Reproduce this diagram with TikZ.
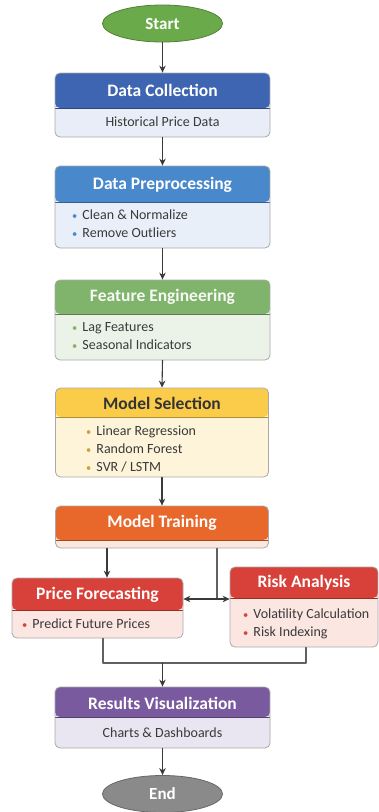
\documentclass[tikz,border=0pt]{standalone}
\usepackage{fontspec}
\setmainfont{Carlito}
\usepackage{xcolor}
\usetikzlibrary{
    arrows.meta,
    positioning,
    calc,
    shapes.geometric
}
\definecolor{ink}   {HTML}{3A3A3A}
\definecolor{rim}   {HTML}{A9A9A9}
\definecolor{go}    {HTML}{6BAA4B}
\definecolor{stop}  {HTML}{8A8A8A}
\definecolor{c1}{HTML}{3D65B1}
\definecolor{c1bg}{HTML}{E8EDF7}
\definecolor{c2}{HTML}{4A88CC}
\definecolor{c2bg}{HTML}{E9EFF9}
\definecolor{c3}{HTML}{80B36C}
\definecolor{c3bg}{HTML}{EBF3E8}
\definecolor{c4}{HTML}{FBCB4A}
\definecolor{c4bg}{HTML}{FEF4DA}
\definecolor{c5}{HTML}{E8682C}
\definecolor{c5bg}{HTML}{FBE7DD}
\definecolor{c6}{HTML}{D8413A}
\definecolor{c6bg}{HTML}{FBE6E2}
\definecolor{c7}{HTML}{7A5A9E}
\definecolor{c7bg}{HTML}{E9E5F1}
\newcommand{\bul}[1]{{\color{#1}\scalebox{0.75}{\textbullet}}\hspace{5pt}}

\begin{document}
\begin{tikzpicture}[
    x=1pt, y=-1pt,
    line cap=round, line join=round,
    >={Stealth[length=7pt, width=6.5pt]},
    %% --- semantic styles ---
    terminal/.style      = {ellipse, draw=#1!75!black, fill=#1, line width=0.8pt,
                            minimum width=120, minimum height=37,
                            font=\fontsize{17}{20}\selectfont\bfseries,
                            text=white, inner sep=0pt},
    stagebox/.style 2 args = {rectangle, draw=rim, fill=#1bg, line width=0.8pt,
                            rounded corners=5pt, inner sep=0pt,
                            minimum width=215,
                            path picture={
                              \fill[#1] (path picture bounding box.north west)
                                rectangle ([yshift=-#2pt]path picture bounding box.north east);
                              \draw[#1!70!black, line width=1pt]
                                ([yshift=-#2pt]path picture bounding box.north west)
                                -- ([yshift=-#2pt]path picture bounding box.north east);
                            }},
    headtext/.style      = {font=\fontsize{17.5}{20}\selectfont\bfseries,
                            text=white, inner sep=0pt},
    bodytext/.style      = {font=\fontsize{14}{18}\selectfont, text=ink,
                            inner sep=0pt},
    listtext/.style      = {bodytext, anchor=west, align=left},
    flow/.style          = {->, draw=ink, line width=1.1pt},
    joinline/.style      = {draw=ink!80, line width=1.1pt}
]
\useasboundingbox (0,0) rectangle (379,812);

%% =====================================================
%% START
%% =====================================================
\node[terminal=go] (START) at (162.5,23.5) {Start};

%% =====================================================
%% Data collection and preparation
%% =====================================================
\node[stagebox={c1}{35}, minimum height=64] (COL) at (162.5,105) {};
\node[headtext] at (162.5,90) {Data Collection};
\node[bodytext] at (162.5,122) {Historical Price Data};

\node[stagebox={c2}{36}, minimum height=82] (PRE) at (162.5,207) {};
\node[headtext] at (162.5,185) {Data Preprocessing};
\node[listtext] at (72,224) {\bul{c2}Clean \& Normalize\\ \bul{c2}Remove Outliers};

\node[stagebox={c3}{34}, minimum height=80] (FEAT) at (162.5,320) {};
\node[headtext, text=white!92!c3] at (162.5,297) {Feature Engineering};
\node[listtext] at (72,336) {\bul{c3}Lag Features\\ \bul{c3}Seasonal Indicators};

%% =====================================================
%% Modelling
%% =====================================================
\node[stagebox={c4}{29}, minimum height=89, minimum width=213] (SEL) at (162,432.5) {};
\node[headtext, text=ink!90!black] at (162,403) {Model Selection};
\node[listtext] at (86,448.5)
    {\bul{c4!80!black}Linear Regression\\ \bul{c4!80!black}Random Forest\\ \bul{c4!80!black}SVR / LSTM};

\node[stagebox={c5}{34}, minimum height=42, minimum width=213] (TRAIN) at (162,527) {};
\node[headtext] at (162,523) {Model Training};

%% =====================================================
%% Two branches
%% =====================================================
\node[stagebox={c6}{32}, minimum height=60, minimum width=171] (FCST) at (97.5,608) {};
\node[headtext] at (97.5,595) {Price Forecasting};
\node[listtext] at (22,624) {\bul{c6}Predict Future Prices};

\node[stagebox={c6}{31}, minimum height=80, minimum width=148] (RISK) at (304,607) {};
\node[headtext] at (304,583) {Risk Analysis};
\node[listtext] at (243,623.5) {\bul{c6}Volatility Calculation\\ \bul{c6}Risk Indexing};

%% =====================================================
%% Output
%% =====================================================
\node[stagebox={c7}{30}, minimum height=61] (VIS) at (162.5,717.5) {};
\node[headtext] at (162.5,703) {Results Visualization};
\node[bodytext] at (162.5,733) {Charts \& Dashboards};

\node[terminal=stop] (END) at (162.5,794) {End};

%% =====================================================
%% Connectors
%% =====================================================
\foreach \A/\B in {START/COL, COL/PRE, PRE/FEAT, FEAT/SEL, SEL/TRAIN}
    \draw[flow] (\A.south) -- (\B.north);

\draw[flow] ([xshift=-55pt]TRAIN.south) -- ([xshift=-55pt]TRAIN.south |- FCST.north);
\coordinate (SPLIT) at (217,599);
\draw[joinline] (TRAIN.south -| SPLIT) -- (SPLIT);
\draw[flow] (SPLIT) -- (SPLIT -| FCST.east);
\draw[flow] (SPLIT) -- (SPLIT -| RISK.west);

\coordinate (MERGE) at (162.5,663);
\draw[joinline] ([xshift=5.5pt]FCST.south) |- (MERGE) -| ([xshift=2pt]RISK.south);
\draw[flow] (MERGE) -- (VIS.north);
\draw[flow] (VIS.south) -- (END.north);

\end{tikzpicture}
\end{document}
